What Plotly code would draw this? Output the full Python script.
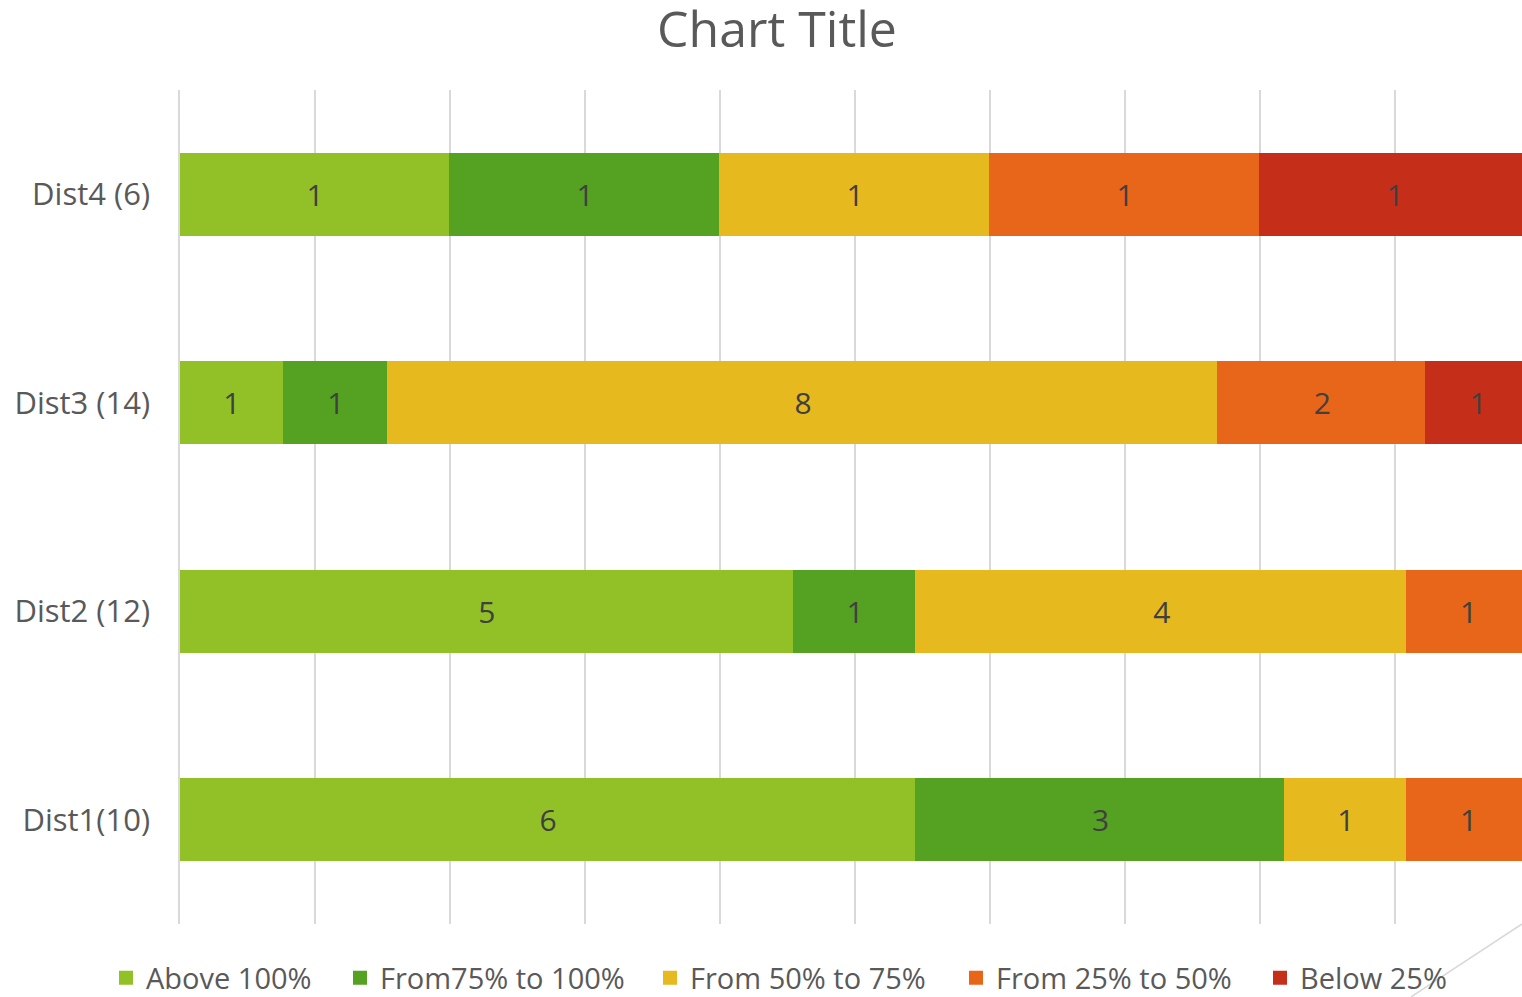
import plotly.graph_objects as go

categories = ["Dist1(10)", "Dist2 (12)", "Dist3 (14)", "Dist4 (6)"]
series_names = ["Above 100%", "From75% to 100%", "From 50% to 75%", "From 25% to 50%", "Below 25%"]
above_100 = [6, 5, 1, 1]
from_75_100 = [3, 1, 1, 1]
from_50_75 = [1, 4, 8, 1]
from_25_50 = [1, 1, 2, 1]
below_25 = [None, None, 1, 1]
series_values = [above_100, from_75_100, from_50_75, from_25_50, below_25]
colors = ["#92C127", "#55A122", "#E6B91F", "#E86619", "#C52F1A"]

W, H = 1522, 997
ML, MR, MT, MB = 180, 0, 90, 73
FONT = "Open Sans"

# left positions (px) of each legend entry
legend_x_px = [106, 340, 650, 956, 1260]

fig = go.Figure()
for i, (name, vals, col) in enumerate(zip(series_names, series_values, colors)):
    fig.add_trace(go.Bar(
        name=name, y=categories, x=vals, orientation="h",
        marker=dict(color=col, line=dict(color=col, width=2)),
        text=[("" if v is None else str(v)) for v in vals],
        textposition="inside", insidetextanchor="middle",
        textfont=dict(family=FONT, size=30, color="#404040"),
        textangle=0, hoverinfo="x+y+name",
        legend="legend" if i == 0 else f"legend{i + 1}",
    ))

# visible plot width corresponds to 1342 of 1350 px of the full 100% axis
full_px = 1350
xmax = 100 * (W - ML - MR) / full_px

legends = {}
for i, lx in enumerate(legend_x_px):
    key = "legend" if i == 0 else f"legend{i + 1}"
    legends[key] = dict(orientation="h", xref="container", yref="container",
                        x=lx / W, xanchor="left", y=1 - 978 / H, yanchor="middle",
                        font=dict(family=FONT, size=29, color="#595959"),
                        bgcolor="rgba(0,0,0,0)", borderwidth=0)

fig.update_layout(
    width=W, height=H,
    margin=dict(l=ML, r=MR, t=MT, b=MB, pad=0),
    barmode="stack", barnorm="percent", bargap=0.61,
    plot_bgcolor="white", paper_bgcolor="white",
    font=dict(family=FONT, color="#595959"),
    title=dict(text="Chart Title", font=dict(family=FONT, size=50, color="#595959"),
               x=777 / W, xanchor="center", xref="container",
               y=1 - 29 / H, yanchor="middle", yref="container"),
    xaxis=dict(range=[0, xmax], dtick=10, tick0=0, showticklabels=False,
               showgrid=True, gridcolor="#D9D9D9", gridwidth=1.5,
               zeroline=False, showline=False, ticks="", fixedrange=True),
    yaxis=dict(showgrid=False, zeroline=False,
               showline=True, linecolor="#D9D9D9", linewidth=1.5,
               ticks="outside", ticklen=22, tickcolor="rgba(0,0,0,0)",
               tickfont=dict(family=FONT, size=31, color="#595959"),
               automargin=False, fixedrange=True),
    showlegend=True,
    shapes=[dict(type="line", xref="paper", yref="paper",
                 x0=(1411 - ML) / (W - ML - MR), y0=(924 - H) / (H - MT - MB),
                 x1=1, y1=0, line=dict(color="#D9D9D9", width=1.5))],
    **legends,
)

fig.write_html("out.html", config={"displayModeBar": False},
               post_script="document.body.style.margin='0';")
